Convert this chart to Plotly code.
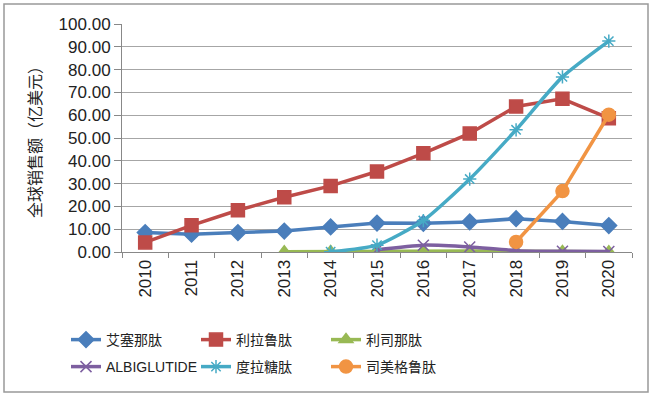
import plotly.graph_objects as go

years = ["2010", "2011", "2012", "2013", "2014", "2015", "2016", "2017", "2018", "2019", "2020"]

exenatide = [8.5, 7.8, 8.5, 9.2, 11.0, 12.7, 12.6, 13.2, 14.6, 13.4, 11.6]
liraglutide = [4.2, 11.7, 18.3, 24.0, 29.0, 35.3, 43.3, 52.0, 63.8, 67.2, 58.7]
lixisenatide = [None, None, None, 0.1, 0.2, 0.4, 0.5, 0.4, 0.3, 0.2, 0.1]
albiglutide = [None, None, None, None, None, 1.0, 3.0, 2.2, 0.6, 0.3, 0.2]
dulaglutide = [None, None, None, None, 0.1, 3.0, 13.8, 32.0, 53.6, 76.8, 92.5]
semaglutide = [None, None, None, None, None, None, None, None, 4.4, 26.7, 60.2]

names = ["艾塞那肽", "利拉鲁肽", "利司那肽", "ALBIGLUTIDE", "度拉糖肽", "司美格鲁肽"]
series = [exenatide, liraglutide, lixisenatide, albiglutide, dulaglutide, semaglutide]
colors = ["#4A7EBB", "#BE4B48", "#98B954", "#7D5FA0", "#46AAC5", "#F19443"]
symbols = ["diamond", "square", "triangle-up", "x-thin-open", "asterisk-open", "circle"]
sizes = [12, 13, 12, 11, 11, 13]
shapes = ["linear", "linear", "linear", "spline", "spline", "linear"]
legends = ["legend", "legend", "legend", "legend2", "legend2", "legend2"]

fig = go.Figure()
for nm, ys, c, s, sz, sh, lg in zip(names, series, colors, symbols, sizes, shapes, legends):
    fig.add_trace(go.Scatter(
        x=years, y=ys, name=nm, mode="lines+markers",
        line=dict(color=c, width=3.5, shape=sh, smoothing=0.6),
        marker=dict(symbol=s, size=sz, color=c, line=dict(color=c, width=1.5)),
        legend=lg, connectgaps=False,
    ))

font_family = "Liberation Sans, Arial, Noto Sans CJK SC, sans-serif"
legfont = dict(size=14, family=font_family, color="#222")

fig.update_layout(
    width=654, height=396,
    margin=dict(l=122, r=22, t=24, b=144),
    paper_bgcolor="white", plot_bgcolor="white",
    font=dict(family=font_family, size=17, color="#222"),
    legend=dict(orientation="h", xref="container", yref="container",
                x=66 / 654, xanchor="left", y=1 - 340 / 396, yanchor="middle",
                entrywidth=85, font=legfont, tracegroupgap=0,
                itemwidth=30, bgcolor="rgba(0,0,0,0)"),
    legend2=dict(orientation="h", xref="container", yref="container",
                 x=66 / 654, xanchor="left", y=1 - 367 / 396, yanchor="middle",
                 entrywidth=85, font=legfont, tracegroupgap=0,
                 itemwidth=30, bgcolor="rgba(0,0,0,0)"),
    xaxis=dict(type="category", tickangle=-90, tickson="boundaries", ticks="outside",
               ticklen=5, tickcolor="#888", showline=True, linecolor="#888", linewidth=1,
               showgrid=False, tickfont=dict(size=17), range=[-0.5, 10.5], automargin=False),
    yaxis=dict(range=[0, 100], dtick=10, tickformat=".2f", ticks="outside", ticklen=7,
               tickcolor="#888", showline=True, linecolor="#888", linewidth=1,
               showgrid=True, gridcolor="#a6a6a6", gridwidth=1, zeroline=False,
               tickfont=dict(size=17), automargin=False,
               title=dict(text="全球销售额（亿美元）", font=dict(size=16), standoff=12)),
    shapes=[dict(type="rect", xref="paper", yref="paper",
                 x0=(4 - 122) / 510, x1=(648 - 122) / 510,
                 y0=(252 - 392) / 228, y1=(252 - 4) / 228,
                 line=dict(color="#999", width=1.5), fillcolor="rgba(0,0,0,0)", layer="below")],
)

fig.write_html("out.html", config={"displayModeBar": False},
               post_script="document.body.style.margin='0';")
